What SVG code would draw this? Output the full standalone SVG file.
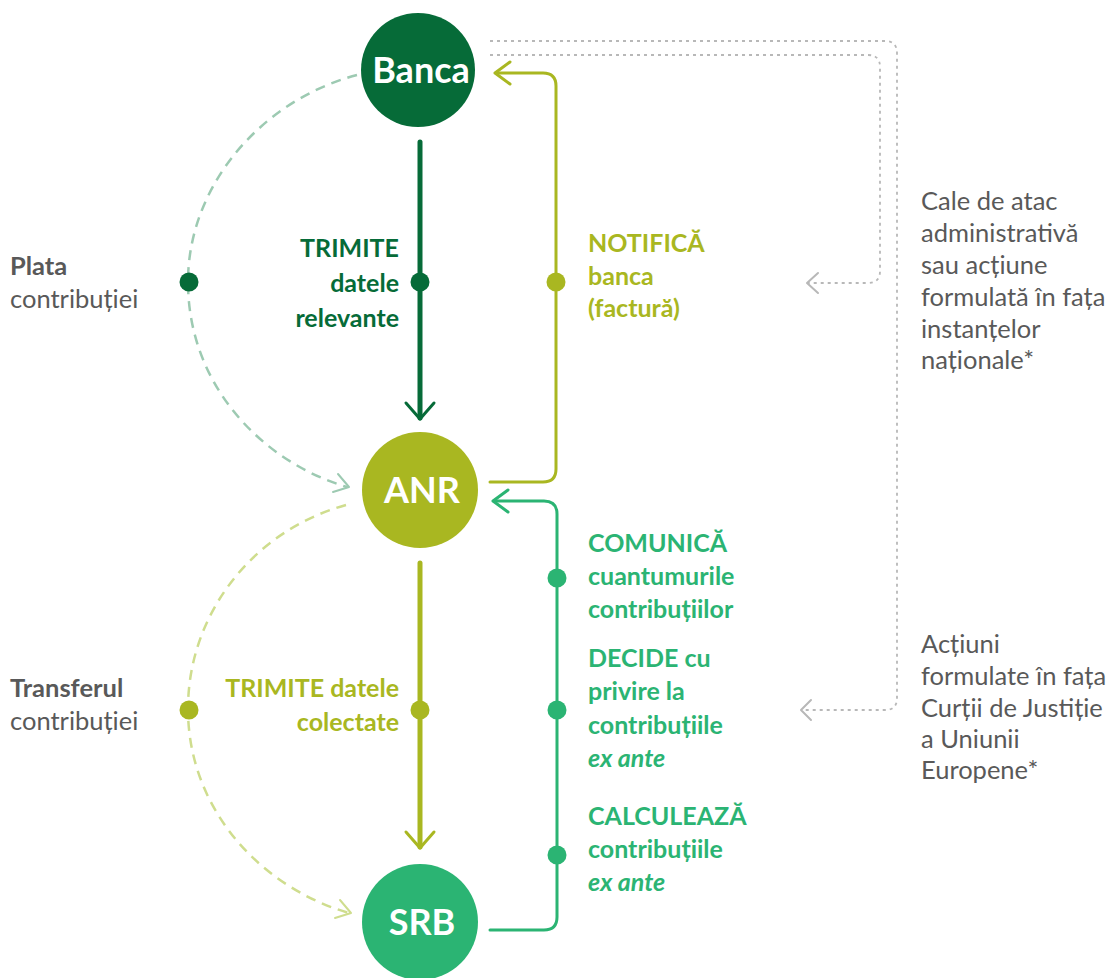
<svg xmlns="http://www.w3.org/2000/svg" width="1108" height="978" viewBox="0 0 1108 978">
<style>
text{font-family:Lato,"Open Sans","Liberation Sans",sans-serif;}
.node{font-size:36px;font-weight:700;fill:#fff;text-anchor:middle;}
.lbl{font-size:25px;font-weight:700;}
.gray{font-size:25.5px;fill:#595959;}
.dg{fill:#066B38;}
.ol{fill:#A9B721;}
.gr{fill:#2BB473;}
.end{text-anchor:end;}
.solid{fill:none;stroke-linecap:round;stroke-linejoin:round;}
.dash{fill:none;stroke-width:2.5;stroke-dasharray:10 7;}
.dot{fill:none;stroke:#B8B8B8;stroke-width:1.8;stroke-dasharray:3 4;}
.head{fill:none;stroke-width:2;stroke-linecap:round;stroke-linejoin:round;}
</style>
<rect width="1108" height="978" fill="#fff"/>
<g id="connectors">
  <!-- Banca -> ANR -->
  <path class="solid" d="M420,142 L420,418" stroke="#066B38" stroke-width="5"/>
  <path class="solid" d="M406,403 L420,419 L434,403" stroke="#066B38" stroke-width="3"/>
  <!-- ANR -> SRB -->
  <path class="solid" d="M420,563 L420,847" stroke="#A9B721" stroke-width="5"/>
  <path class="solid" d="M406,832 L420,848 L434,832" stroke="#A9B721" stroke-width="3"/>
  <!-- ANR -> Banca (notifica) -->
  <path class="solid" d="M490,482 L543,482 Q556,482 556,469 L556,86 Q556,73 543,73 L496,73" stroke="#A9B721" stroke-width="3"/>
  <path class="solid" d="M510,62 L495,73 L510,84" stroke="#A9B721" stroke-width="3"/>
  <!-- SRB -> ANR -->
  <path class="solid" d="M490,930 L544,930 Q557,930 557,917 L557,514 Q557,501 544,501 L494,501" stroke="#2BB473" stroke-width="3"/>
  <path class="solid" d="M508,490 L493,501 L508,512" stroke="#2BB473" stroke-width="3"/>
  <!-- dashed arcs -->
  <path class="dash" d="M357,75 C262,100 188,185 188,282 C188,385 262,462 347,487" stroke="#9DCAB2"/>
  <path class="head" d="M333,492 L349,487 L338,474" stroke="#9DCAB2"/>
  <path class="dash" d="M346,505 C255,530 188,612 188,709 C188,810 262,888 349,913" stroke="#CFDD8E"/>
  <path class="head" d="M335,918 L351,913 L340,900" stroke="#CFDD8E"/>
  <!-- grey dotted -->
  <path class="dot" d="M490,41 L885,41 Q897,41 897,53 L897,698 Q897,710 885,710 L802,710"/>
  <path class="head" d="M811,700 L801,710 L811,720" stroke="#B8B8B8" stroke-width="1.6"/>
  <path class="dot" d="M490,55 L868,55 Q880,55 880,67 L880,271 Q880,283 868,283 L808,283"/>
  <path class="head" d="M818,273 L807,283 L818,293" stroke="#B8B8B8" stroke-width="1.6"/>
  <!-- dots -->
  <circle cx="420" cy="282" r="9.5" fill="#066B38"/>
  <circle cx="189" cy="282" r="9.5" fill="#066B38"/>
  <circle cx="556" cy="282" r="9.5" fill="#A9B721"/>
  <circle cx="420" cy="710" r="9.5" fill="#A9B721"/>
  <circle cx="189" cy="710" r="9.5" fill="#A9B721"/>
  <circle cx="557" cy="578" r="9.5" fill="#2BB473"/>
  <circle cx="557" cy="710" r="9.5" fill="#2BB473"/>
  <circle cx="557" cy="855" r="9.5" fill="#2BB473"/>
</g>
<g id="banca">
  <circle cx="418" cy="70" r="57" fill="#066B38"/>
  <text class="node" x="421" y="83">Banca</text>
</g>
<g id="anr">
  <circle cx="420" cy="490" r="58" fill="#A9B721"/>
  <text class="node" x="422" y="503">ANR</text>
</g>
<g id="srb">
  <circle cx="420" cy="922" r="58" fill="#2BB473"/>
  <text class="node" x="422" y="935">SRB</text>
</g>
<g id="label-trimite-relevante">
  <text class="lbl dg end" x="399" y="257">TRIMITE</text>
  <text class="lbl dg end" x="399" y="292">datele</text>
  <text class="lbl dg end" x="399" y="327">relevante</text>
</g>
<g id="label-plata">
  <text class="gray" x="10" y="275" font-weight="700">Plata</text>
  <text class="gray" x="10" y="308">contribuției</text>
</g>
<g id="label-notifica">
  <text class="lbl ol" x="588" y="252">NOTIFICĂ</text>
  <text class="lbl ol" x="588" y="285">banca</text>
  <text class="lbl ol" x="588" y="317">(factură)</text>
</g>
<g id="label-cale">
  <text class="gray" x="921" y="210">Cale de atac</text>
  <text class="gray" x="921" y="242">administrativă</text>
  <text class="gray" x="921" y="274">sau acțiune</text>
  <text class="gray" x="921" y="306">formulată în fața</text>
  <text class="gray" x="921" y="338">instanțelor</text>
  <text class="gray" x="921" y="369">naționale*</text>
</g>
<g id="label-comunica">
  <text class="lbl gr" x="588" y="552">COMUNICĂ</text>
  <text class="lbl gr" x="588" y="585">cuantumurile</text>
  <text class="lbl gr" x="588" y="618">contribuțiilor</text>
</g>
<g id="label-decide">
  <text class="lbl gr" x="588" y="667">DECIDE cu</text>
  <text class="lbl gr" x="588" y="700">privire la</text>
  <text class="lbl gr" x="588" y="734">contribuțiile</text>
  <text class="lbl gr" x="588" y="767" font-style="italic">ex ante</text>
</g>
<g id="label-calculeaza">
  <text class="lbl gr" x="588" y="825">CALCULEAZĂ</text>
  <text class="lbl gr" x="588" y="858">contribuțiile</text>
  <text class="lbl gr" x="588" y="891" font-style="italic">ex ante</text>
</g>
<g id="label-transferul">
  <text class="gray" x="10" y="697" font-weight="700">Transferul</text>
  <text class="gray" x="10" y="730">contribuției</text>
</g>
<g id="label-trimite-colectate">
  <text class="lbl ol end" x="399" y="697">TRIMITE datele</text>
  <text class="lbl ol end" x="399" y="731">colectate</text>
</g>
<g id="label-actiuni">
  <text class="gray" x="921" y="653">Acțiuni</text>
  <text class="gray" x="921" y="685">formulate în fața</text>
  <text class="gray" x="921" y="717">Curții de Justiție</text>
  <text class="gray" x="921" y="748">a Uniunii</text>
  <text class="gray" x="921" y="779">Europene*</text>
</g>
</svg>
